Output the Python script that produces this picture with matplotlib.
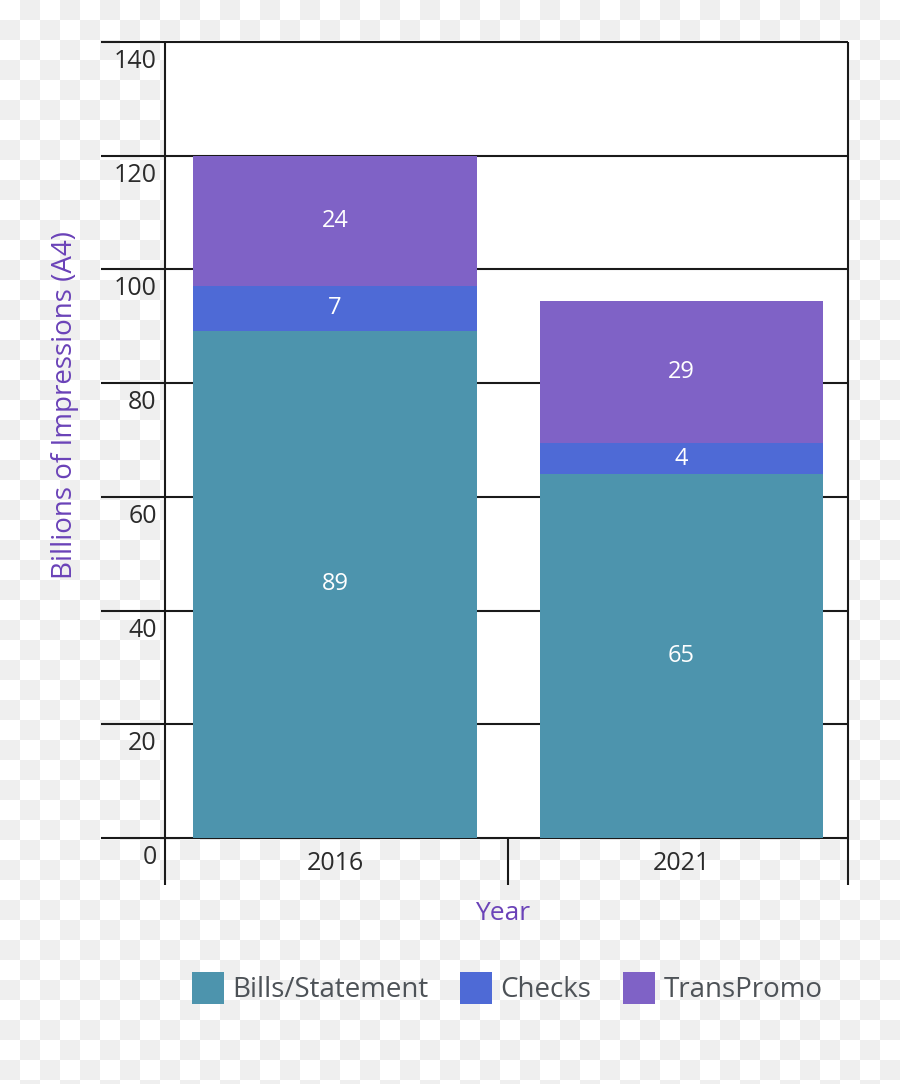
import numpy as np
import matplotlib
matplotlib.use("Agg")
import matplotlib.pyplot as plt
import matplotlib.transforms as mtransforms

plt.rcParams['font.family'] = ['Open Sans', 'DejaVu Sans']

# data
years = ["2016", "2021"]
series = ["Bills/Statement", "Checks", "TransPromo"]
bills = [89.2, 64.0]
checks = [7.9, 5.45]
transpromo = [22.9, 24.95]
# the printed numbers on the segments
bills_lbl = ["89", "65"]
checks_lbl = ["7", "4"]
transpromo_lbl = ["24", "29"]
colors = ["#4d94ad", "#4e6ad6", "#7f62c6"]
yticks = [0, 20, 40, 60, 80, 100, 120, 140]

W, H = 900, 1084
fig = plt.figure(figsize=(W / 100, H / 100), dpi=100)

# checkerboard background (transparent-image look)
bg = fig.add_axes([0, 0, 1, 1], zorder=-10)
nr, nc = int(np.ceil(H / 20)), int(np.ceil(W / 20))
board = (np.add.outer(np.arange(nr), np.arange(nc)) % 2).astype(float)
bg.imshow(board, cmap=matplotlib.colors.ListedColormap(["#ffffff", "#efefef"]),
          extent=(0, nc * 20, nr * 20, 0), interpolation="nearest", aspect="auto")
bg.set_xlim(0, W); bg.set_ylim(H, 0)
bg.axis("off")

ax = fig.add_axes([165 / W, 1 - 838 / H, (848 - 165) / W, (838 - 42) / H])
ax.set_facecolor("white")
x = np.arange(len(years))
xl = (-0.49, 1.48)
ax.set_xlim(*xl)
ax.set_ylim(0, 140)

bot = np.zeros(2)
for vals, lbls, c, name in zip([bills, checks, transpromo],
                               [bills_lbl, checks_lbl, transpromo_lbl], colors, series):
    bars = ax.bar(x, vals, 0.817, bottom=bot, color=c, label=name, zorder=3)
    ax.bar_label(bars, labels=lbls, label_type="center", color="white", fontsize=17)
    bot = bot + np.array(vals)

# horizontal rules that run out to the left past the axis
tr = mtransforms.blended_transform_factory(ax.transAxes, ax.transData)
for v in yticks:
    ax.plot([-64 / 683, 1], [v, v], transform=tr, color="#1a1a1a", lw=1.5,
            clip_on=False, zorder=2, solid_capstyle="butt")
# vertical lines that run down below the base
tv = mtransforms.blended_transform_factory(ax.transData, ax.transAxes)
for xv, top in [(xl[0], 1), (0.5, 0), (xl[1], 1)]:
    ax.plot([xv, xv], [-47 / 796, top], transform=tv, color="#1a1a1a", lw=1.5,
            clip_on=False, zorder=4, solid_capstyle="butt")

for s in ax.spines.values():
    s.set_visible(False)

ax.set_yticks(yticks)
ax.set_yticklabels([str(v) for v in yticks])
ax.tick_params(axis="y", length=0, pad=6, labelsize=18, labelcolor="#2b2b2b")
for t in ax.get_yticklabels():
    t.set_verticalalignment("top")
    t.set_transform(t.get_transform() + mtransforms.ScaledTranslation(0, -7 / 100, fig.dpi_scale_trans))
ax.set_xticks(x)
ax.set_xticklabels(years)
ax.tick_params(axis="x", length=0, pad=9, labelsize=18, labelcolor="#2b2b2b")

fig.text(65 / W, 1 - 405 / H, "Billions of Impressions (A4)", rotation=90,
         ha="center", va="center", fontsize=20, color="#6a42b8")
fig.text(503 / W, 1 - 914 / H, "Year", ha="center", va="center",
         fontsize=19, color="#6a42b8")

fig.legend(loc="center", bbox_to_anchor=(507 / W, 1 - 988 / H), ncol=3,
           frameon=False, fontsize=20, handlelength=1.15, handleheight=1.39,
           handletextpad=0.3, columnspacing=1.15, labelcolor="#4d5257")

fig.savefig("out.png", dpi=100)
